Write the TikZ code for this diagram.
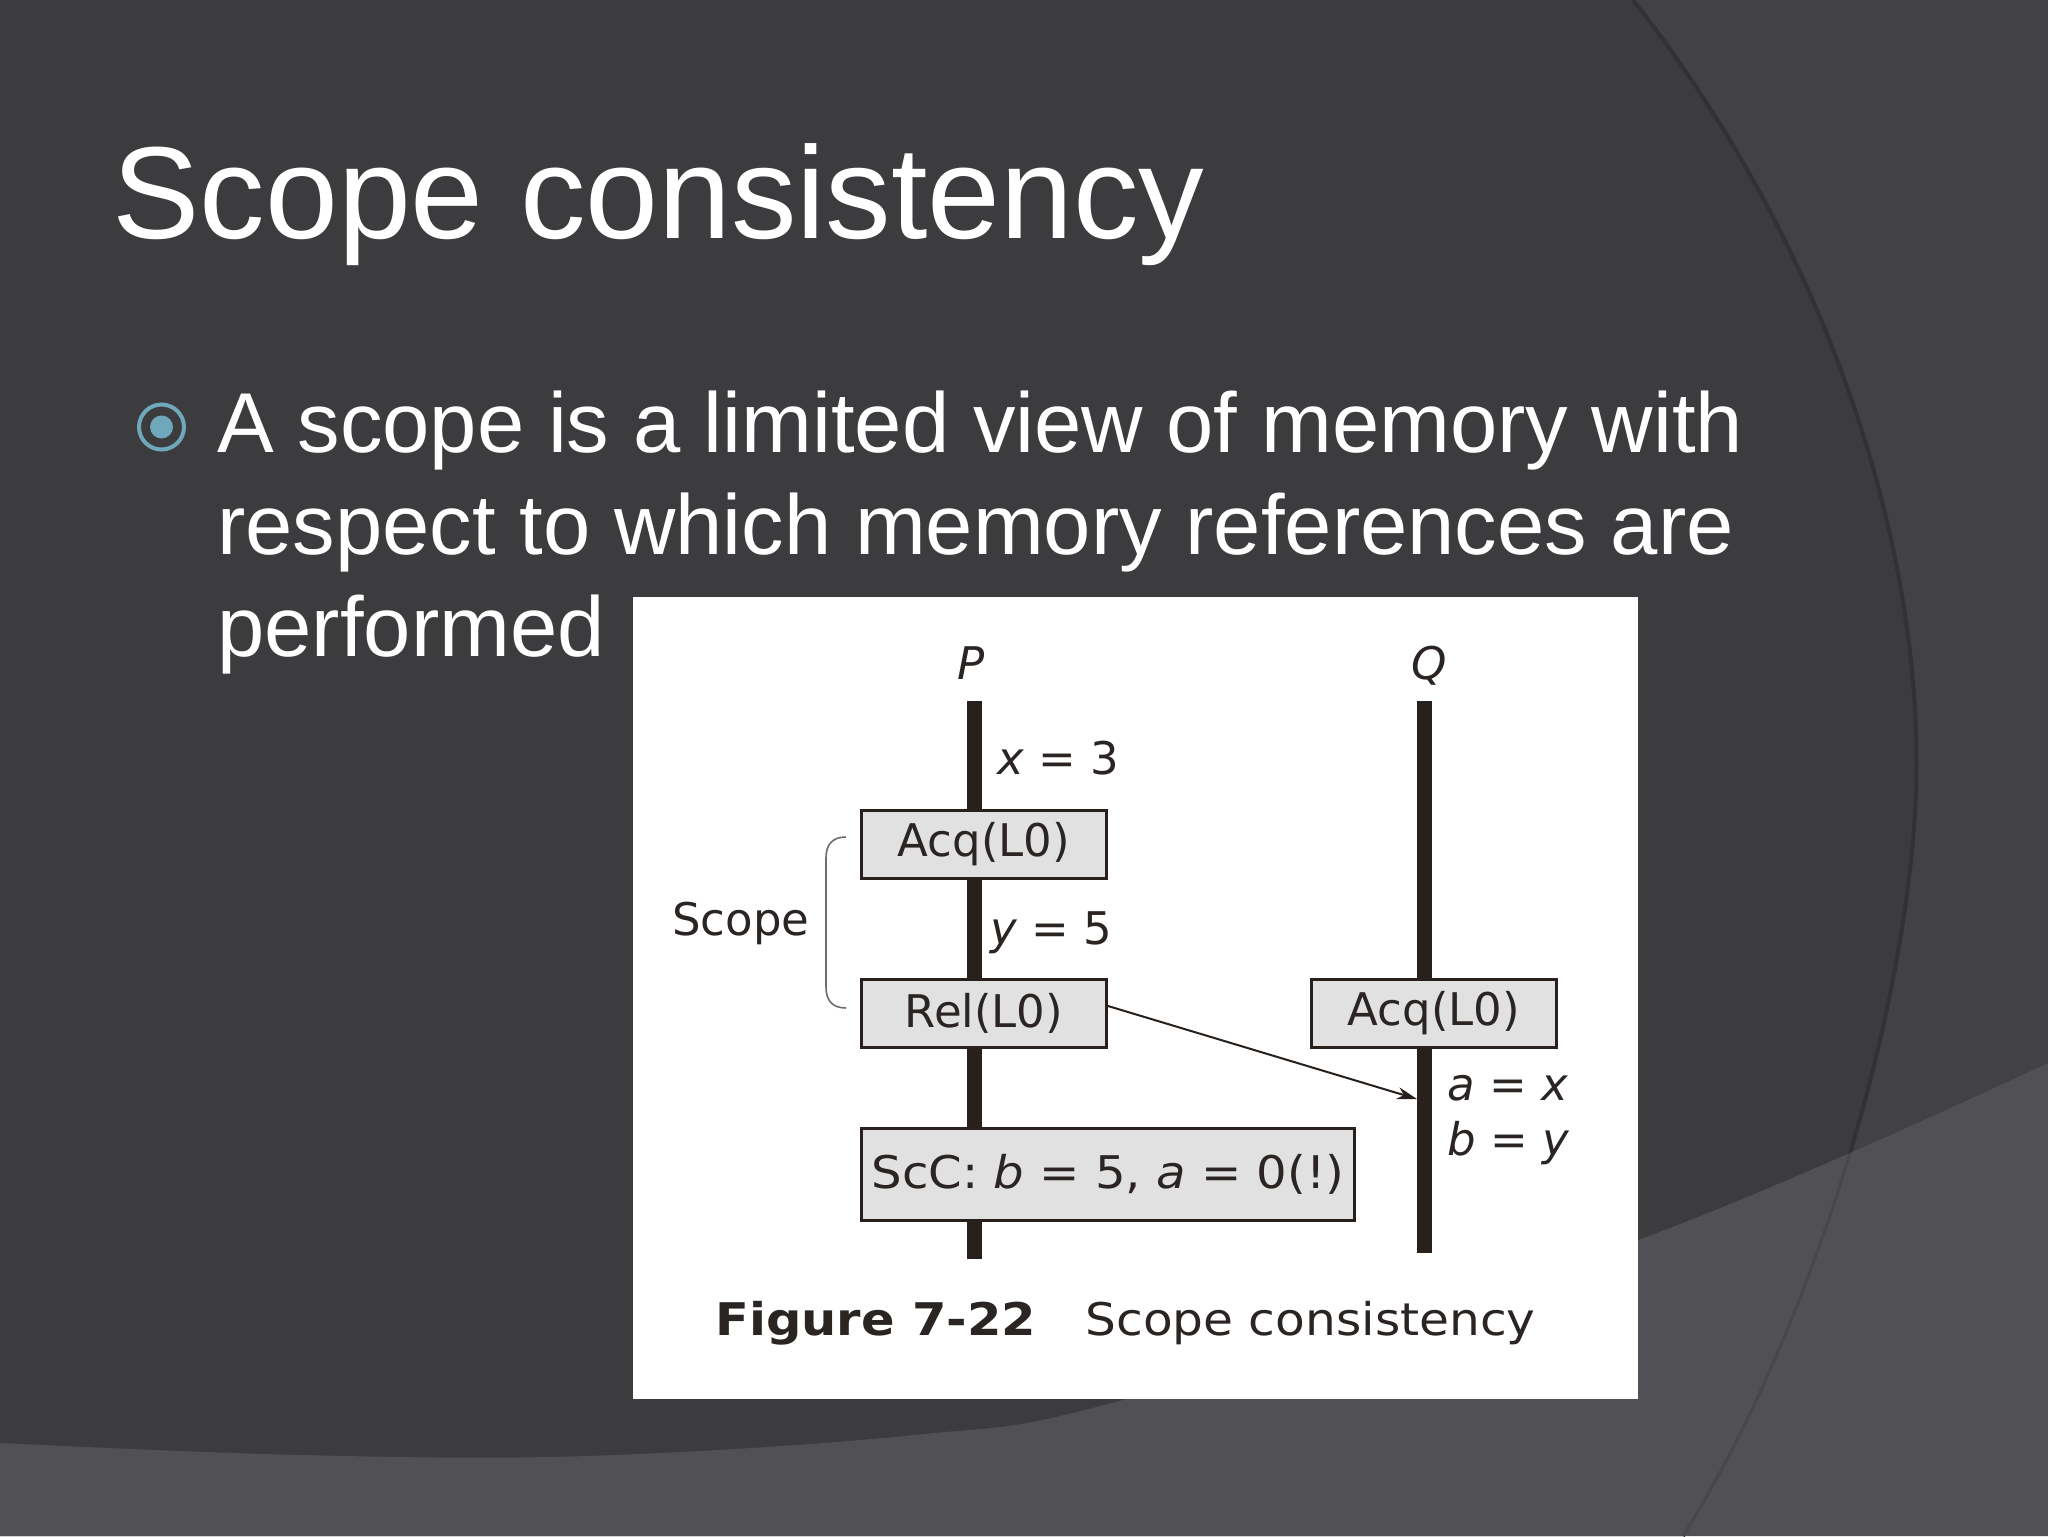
\documentclass[tikz,border=0pt]{standalone}
\usepackage{fontspec}
\usepackage{graphicx}
\setmainfont{Liberation Sans}
\newfontfamily\figfont{DejaVu Sans}
\usetikzlibrary{arrows.meta}
\definecolor{bgmid}{RGB}{66,65,68}
\definecolor{bgdark}{RGB}{60,59,62}
\definecolor{bglight}{RGB}{81,80,84}
\definecolor{arcshade}{RGB}{50,49,52}
\definecolor{arcfaint}{RGB}{72,71,75}
\definecolor{bulletblue}{RGB}{110,168,186}
\definecolor{ink}{RGB}{40,32,28}
\definecolor{boxfill}{RGB}{225,225,225}
\definecolor{figtext}{RGB}{42,37,35}
\definecolor{bracketgray}{RGB}{110,110,110}
\begin{document}
\begin{tikzpicture}[x=0.5pt,y=-0.5pt,
  slidetext/.style={text=white, inner sep=0pt, anchor=base west},
  lifeline/.style={draw=ink, line width=7.5pt},
  opbox/.style={draw=ink, fill=boxfill, line width=1.5pt, rectangle, inner sep=0pt,
    minimum width=122.5pt, minimum height=34pt,
    font=\figfont\fontsize{22.5}{27}\selectfont, text=figtext},
  figlabel/.style={inner sep=0pt, anchor=base west,
    font=\figfont\fontsize{22.5}{27}\selectfont, text=figtext},
]
\useasboundingbox (0,0) rectangle (2048,1536);
% background
\fill[bgmid] (0,0) rectangle (2048,1536);
\fill[bgdark] (0,0) -- (1633,0) .. controls (1830,250) and (1930,560) .. (1915,813)
  .. controls (1900,1050) and (1800,1350) .. (1683,1536) -- (0,1536) -- cycle;
\draw[arcshade, line width=2pt] (1633,0) .. controls (1830,250) and (1930,560) .. (1915,813)
  .. controls (1900,1050) and (1800,1350) .. (1683,1536);
\fill[bglight] plot[smooth, tension=0.6] coordinates {(0,1443) (300,1455) (587,1456) (914,1435) (1123,1400) (1638,1240) (2048,1063)}
  -- (2048,1536) -- (0,1536) -- cycle;
\begin{scope}
  \clip plot[smooth, tension=0.6] coordinates {(0,1443) (300,1455) (587,1456) (914,1435) (1123,1400) (1638,1240) (2048,1063)}
    -- (2048,1536) -- (0,1536) -- cycle;
  \draw[arcfaint, line width=1.5pt] (1915,813) .. controls (1900,1050) and (1800,1350) .. (1683,1536);
\end{scope}

% title and bullet text
\node[slidetext, font=\fontsize{65.5}{78}\selectfont] (title) at (112,238) {Scope consistency};
\node[circle, draw=bulletblue, line width=2pt, minimum size=22.5pt, inner sep=0pt] (bulring) at (161.5,427) {};
\node[circle, fill=bulletblue, minimum size=11.5pt, inner sep=0pt] (buldot) at (bulring.center) {};
\node[slidetext, font=\fontsize{42.5}{51}\selectfont] (line1) at (217,452) {A scope is a limited view of memory with};
\node[slidetext, font=\fontsize{42.5}{51}\selectfont] (line2) at (217,554) {respect to which memory references are};
\node[slidetext, font=\fontsize{42.5}{51}\selectfont] (line3) at (217,656) {performed};

% figure panel
\node[fill=white, inner sep=0pt, minimum width=502.5pt, minimum height=401pt] (panel) at (1135.5,998) {};

% lifelines
\coordinate (Ptop) at (974,701);
\coordinate (Pbot) at (974,1259);
\coordinate (Qtop) at (1424.5,701);
\coordinate (Qbot) at (1424.5,1253);
\draw[lifeline] (Ptop) -- (Pbot);
\draw[lifeline] (Qtop) -- (Qbot);
\node[figlabel, anchor=base] (Plbl) at (971,679) {\itshape P};
\node[figlabel, anchor=base] (Qlbl) at (1429,679) {\itshape Q};

% operation boxes
\node[opbox] (acqP) at (984,844.5) {Acq(L0)};
\node[opbox] (relP) at (984,1013) {Rel(L0)};
\node[opbox] (acqQ) at (1434,1013) {Acq(L0)};
\node[opbox, minimum width=246.5pt, minimum height=46pt] (scc) at (1108,1174.5) {\scalebox{1.07}[1]{ScC: {\itshape b} = 5, {\itshape a} = 0(!)}};

% labels
\node[figlabel] (x3) at (997,774) {{\itshape x} = 3};
\node[figlabel] (y5) at (990,944) {{\itshape y} = 5};
\node[figlabel] (ax) at (1447,1100) {{\itshape a} = {\itshape x}};
\node[figlabel] (by) at (1447,1155) {{\itshape b} = {\itshape y}};
\node[figlabel] (scopelbl) at (672,935) {Scope};

% scope bracket
\draw[bracketgray, line width=0.8pt] (846,837) .. controls (832,837) and (826,845) .. (826,858)
  -- (826,987) .. controls (826,1000) and (832,1008) .. (846,1008);

% message arrow
\coordinate (qhit) at (1417,1099);
\draw[ink, line width=1pt, -{Stealth[length=10pt,width=6pt]}] ([yshift=3.5pt]relP.east) -- (qhit);

% caption
\node[figlabel] (figno) at (715,1335) {\scalebox{1.10}[1]{\bfseries Figure 7-22}};
\node[figlabel] (figname) at (1085,1335) {\scalebox{1.08}[1]{Scope consistency}};
\end{tikzpicture}
\end{document}
